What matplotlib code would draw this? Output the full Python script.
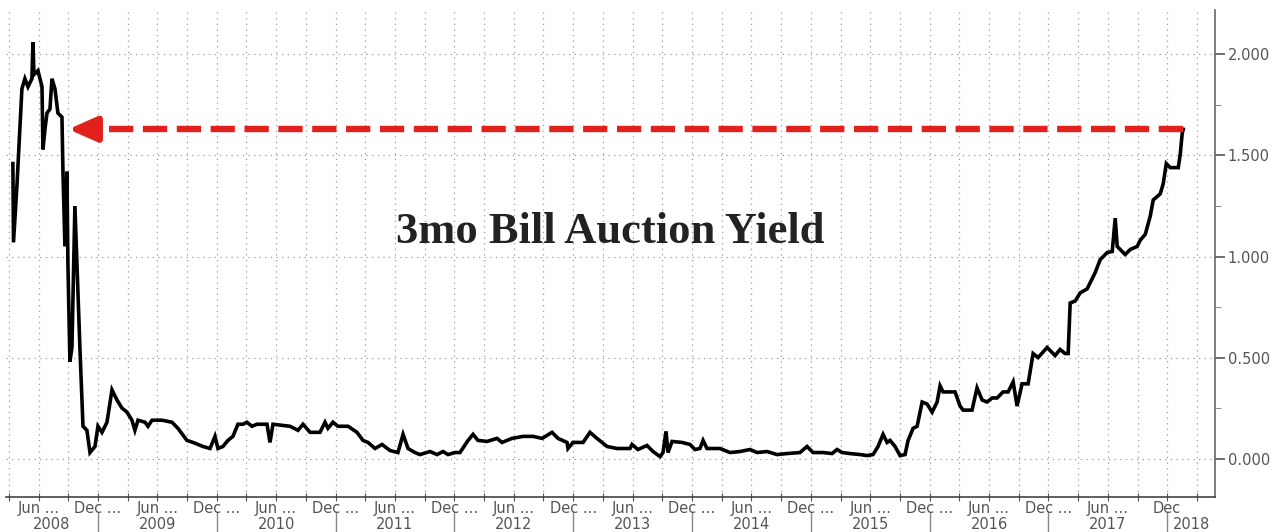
import matplotlib
matplotlib.use("Agg")
import matplotlib.pyplot as plt
import matplotlib.transforms as mtransforms
from matplotlib.lines import Line2D
from matplotlib.patches import FancyArrowPatch
import numpy as np

# 3-month bill auction yield (decimal year, percent)
dates = [
    2008.284, 2008.289, 2008.318, 2008.343, 2008.360, 2008.385, 2008.411, 2008.444,
    2008.453, 2008.461, 2008.495, 2008.529, 2008.537, 2008.554, 2008.571, 2008.596,
    2008.613, 2008.638, 2008.663, 2008.697, 2008.705, 2008.722, 2008.739, 2008.747,
    2008.764, 2008.781, 2008.806, 2008.823, 2008.848, 2008.874, 2008.907, 2008.933,
    2008.975, 2009.000, 2009.034, 2009.076, 2009.118, 2009.160, 2009.202, 2009.244,
    2009.286, 2009.311, 2009.337, 2009.396, 2009.421, 2009.455, 2009.539, 2009.623,
    2009.673, 2009.749, 2009.800, 2009.884, 2009.943, 2009.985, 2010.010, 2010.052,
    2010.094, 2010.136, 2010.178, 2010.221, 2010.254, 2010.296, 2010.338, 2010.423,
    2010.448, 2010.473, 2010.616, 2010.684, 2010.726, 2010.785, 2010.869, 2010.911,
    2010.936, 2010.978, 2011.020, 2011.105, 2011.180, 2011.231, 2011.273, 2011.332,
    2011.391, 2011.458, 2011.525, 2011.568, 2011.610, 2011.668, 2011.710, 2011.795,
    2011.854, 2011.904, 2011.946, 2012.005, 2012.047, 2012.115, 2012.157, 2012.199,
    2012.275, 2012.359, 2012.401, 2012.485, 2012.578, 2012.662, 2012.738, 2012.822,
    2012.872, 2012.948, 2012.956, 2012.998, 2013.083, 2013.141, 2013.200, 2013.285,
    2013.369, 2013.478, 2013.495, 2013.545, 2013.621, 2013.672, 2013.731, 2013.756,
    2013.781, 2013.798, 2013.832, 2013.916, 2013.983, 2014.025, 2014.067, 2014.093,
    2014.126, 2014.236, 2014.320, 2014.404, 2014.488, 2014.547, 2014.632, 2014.716,
    2014.800, 2014.909, 2014.968, 2015.019, 2015.103, 2015.179, 2015.221, 2015.263,
    2015.330, 2015.414, 2015.473, 2015.524, 2015.566, 2015.608, 2015.642, 2015.667,
    2015.709, 2015.751, 2015.793, 2015.819, 2015.861, 2015.895, 2015.937, 2015.979,
    2016.021, 2016.063, 2016.088, 2016.113, 2016.155, 2016.214, 2016.256, 2016.282,
    2016.357, 2016.399, 2016.442, 2016.484, 2016.526, 2016.568, 2016.618, 2016.661,
    2016.703, 2016.736, 2016.778, 2016.829, 2016.871, 2016.913, 2016.989, 2017.056,
    2017.098, 2017.140, 2017.166, 2017.183, 2017.225, 2017.267, 2017.326, 2017.351,
    2017.393, 2017.436, 2017.495, 2017.537, 2017.562, 2017.579, 2017.646, 2017.689,
    2017.747, 2017.772, 2017.815, 2017.857, 2017.882, 2017.941, 2017.966, 2017.992,
    2018.025, 2018.093, 2018.110, 2018.126, 2018.135,
]
yields = [
    1.46, 1.07, 1.35, 1.63, 1.83, 1.88, 1.84, 1.88,
    2.06, 1.90, 1.92, 1.84, 1.53, 1.63, 1.71, 1.73,
    1.88, 1.83, 1.71, 1.69, 1.43, 1.05, 1.42, 0.97,
    0.48, 0.55, 1.25, 0.97, 0.55, 0.16, 0.14, 0.03,
    0.06, 0.16, 0.13, 0.18, 0.34, 0.29, 0.25, 0.23,
    0.19, 0.14, 0.19, 0.18, 0.16, 0.19, 0.19, 0.18,
    0.15, 0.09, 0.08, 0.06, 0.05, 0.11, 0.05, 0.06,
    0.09, 0.11, 0.17, 0.17, 0.18, 0.16, 0.17, 0.17,
    0.08, 0.17, 0.16, 0.14, 0.17, 0.13, 0.13, 0.18,
    0.15, 0.18, 0.16, 0.16, 0.13, 0.09, 0.08, 0.05,
    0.07, 0.04, 0.03, 0.12, 0.05, 0.03, 0.02, 0.035,
    0.02, 0.035, 0.02, 0.03, 0.03, 0.09, 0.12, 0.09,
    0.085, 0.10, 0.08, 0.10, 0.11, 0.11, 0.10, 0.13,
    0.10, 0.08, 0.05, 0.08, 0.08, 0.13, 0.10, 0.06,
    0.05, 0.05, 0.07, 0.045, 0.065, 0.035, 0.01, 0.03,
    0.135, 0.03, 0.085, 0.08, 0.07, 0.045, 0.05, 0.09,
    0.05, 0.05, 0.03, 0.035, 0.045, 0.03, 0.035, 0.02,
    0.025, 0.03, 0.06, 0.03, 0.03, 0.025, 0.045, 0.03,
    0.025, 0.02, 0.015, 0.02, 0.06, 0.12, 0.08, 0.09,
    0.06, 0.015, 0.02, 0.09, 0.15, 0.16, 0.28, 0.27,
    0.23, 0.28, 0.36, 0.33, 0.33, 0.33, 0.26, 0.24,
    0.24, 0.35, 0.29, 0.28, 0.30, 0.30, 0.33, 0.33,
    0.38, 0.26, 0.37, 0.37, 0.52, 0.50, 0.55, 0.51,
    0.54, 0.52, 0.52, 0.77, 0.78, 0.82, 0.84, 0.87,
    0.92, 0.985, 1.02, 1.025, 1.19, 1.05, 1.01, 1.035,
    1.05, 1.08, 1.11, 1.20, 1.28, 1.31, 1.36, 1.46,
    1.44, 1.44, 1.51, 1.61, 1.63,
]

title = "3mo Bill Auction Yield"
last_label = "1.630"
arrow_tip = 2008.75     # where the red arrow points (mid-2008 level)
years = list(range(2008, 2019))
x_min, x_max = 2008.226, 2018.402
y_min, y_max = -0.19, 2.22

fig = plt.figure(figsize=(12.76, 5.32), dpi=100)
ax = fig.add_axes([0.0047, 0.0658, 0.9475, 0.9154])

ax.plot(dates, yields, color="black", lw=2.6, solid_joinstyle="miter", zorder=3)

# red dashed "same level" arrow
last_y = yields[-1]
ax.plot([dates[-1], arrow_tip + 0.2], [last_y, last_y], color="#e3211c", lw=4.6,
        linestyle=(0, (3.8, 1.5)), zorder=5)
ax.add_patch(FancyArrowPatch((arrow_tip + 0.22, last_y), (arrow_tip, last_y),
                             arrowstyle="-|>,head_length=17,head_width=7.5",
                             color="#e3211c", lw=4.6, shrinkA=0, shrinkB=0,
                             zorder=6))

ax.text(0.5, 0.545, title, transform=ax.transAxes, ha="center", va="center",
        fontsize=32, fontweight="bold", family="Liberation Serif", color="#222222")

ax.set_xlim(x_min, x_max)
ax.set_ylim(y_min, y_max)

# grid
quarters = np.arange(2008.25, 2018.3, 0.25)
ax.set_xticks(quarters)
ax.tick_params(axis="x", direction="inout", length=6, color="#555555",
               labelbottom=False)
ax.set_yticks([0, 0.5, 1.0, 1.5, 2.0])
ax.set_yticks(np.arange(0.25, 2.2, 0.5), minor=True)
ax.yaxis.tick_right()
ax.set_yticklabels(["0.000", "0.500", "1.000", "1.500", "2.000"])
ax.tick_params(axis="y", which="major", direction="out", length=7, width=1.2,
               color="#555555", labelcolor="#555555", labelsize=10.5, pad=2)
ax.tick_params(axis="y", which="minor", direction="out", length=4, color="#777777")
ax.grid(True, which="major", color="#9a9a9a", linestyle=(0, (1, 3.5)), lw=0.9)

for s in ["top", "left"]:
    ax.spines[s].set_visible(False)
ax.spines["right"].set_color("#666666")
ax.spines["bottom"].set_color("#444444")
ax.spines["right"].set_linewidth(1.2)
ax.spines["bottom"].set_linewidth(1.2)

# two-row date labels
trans = mtransforms.blended_transform_factory(ax.transData, ax.transAxes)
for y in years:
    for t, lab in [(y + 0.5, "Jun ..."), (y + 1.0, "Dec ...")]:
        if x_min <= t <= x_max:
            if t == 2018.0:
                lab = "Dec"
            ax.text(t, -0.024, lab, transform=trans, ha="center", va="center",
                    fontsize=10.5, color="#555555")
    lo, hi = max(y, x_min), min(y + 1, x_max)
    ax.text((lo + hi) / 2, -0.057, str(y), transform=trans, ha="center",
            va="center", fontsize=10.5, color="#555555")
    if y > 2008:
        ax.add_line(Line2D([y, y], [-0.03, -0.08], transform=trans, color="#888888",
                           lw=1, clip_on=False))

# last value tag
ax.annotate(last_label, xy=(1.0, last_y), xycoords=trans, xytext=(8, 0),
            textcoords="offset points", ha="left", va="center", fontsize=10.5,
            color="white",
            bbox=dict(boxstyle="larrow,pad=0.25", fc="black", ec="black"))

fig.savefig("out.png", dpi=100, facecolor="white")
